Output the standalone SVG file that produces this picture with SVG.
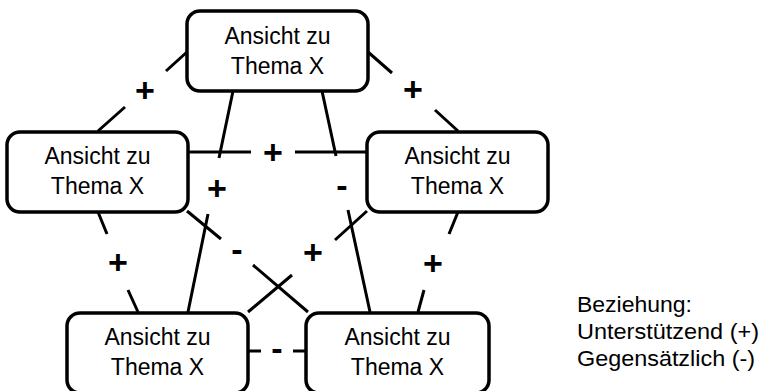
<svg xmlns="http://www.w3.org/2000/svg" width="762" height="391" viewBox="0 0 762 391">
<style>
.box{fill:#fff;stroke:#000;stroke-width:3.5}
.t{font-family:"Liberation Sans",Arial,sans-serif;font-size:23px;fill:#000;text-anchor:middle}
.c{stroke:#000;stroke-width:3;fill:none;stroke-linecap:butt}
.lp{font-family:"Liberation Sans",Arial,sans-serif;font-size:34px;font-weight:bold;fill:#000;text-anchor:middle}
.lg{font-family:"Liberation Sans",Arial,sans-serif;font-size:22px;fill:#000}
</style>
<rect width="762" height="391" fill="#fff"/>
<g id="connectors">
  <path class="c" d="M187,52 L166,71 M125,107 L98,131"/>
  <text class="lp" x="145" y="102">+</text>
  <path class="c" d="M368,52 L392,73 M435,110 L458,131"/>
  <text class="lp" x="413" y="101">+</text>
  <path class="c" d="M188,152 L251,152 M295,152 L367,152"/>
  <text class="lp" x="273" y="164">+</text>
  <path class="c" d="M233,91 L219,158 M208,214 L188,312"/>
  <text class="lp" x="217" y="200">+</text>
  <path class="c" d="M322,91 L336,156 M348,210 L370,312"/>
  <text class="lp" x="342" y="197">-</text>
  <path class="c" d="M187,211 L221,239 M253,265 L308,312"/>
  <text class="lp" x="237" y="261">-</text>
  <path class="c" d="M367,211 L335,240 M292,275 L248,312"/>
  <text class="lp" x="313" y="264">+</text>
  <path class="c" d="M98,212 L107,234 M128,290 L138,312"/>
  <text class="lp" x="118" y="274">+</text>
  <path class="c" d="M458,212 L449,234 M424,290 L418,312"/>
  <text class="lp" x="433" y="275">+</text>
  <path class="c" d="M248,351 L261,351 M293,351 L306,351"/>
  <text class="lp" x="277" y="360">-</text>
</g>
<g id="node-top">
  <rect class="box" x="187" y="11" width="181" height="80" rx="13"/>
  <text class="t" x="277.5" y="44">Ansicht zu</text>
  <text class="t" x="277.5" y="74">Thema X</text>
</g>
<g id="node-left">
  <rect class="box" x="7" y="132" width="181" height="80" rx="13"/>
  <text class="t" x="97.5" y="164">Ansicht zu</text>
  <text class="t" x="97.5" y="194">Thema X</text>
</g>
<g id="node-right">
  <rect class="box" x="367" y="132" width="181" height="80" rx="13"/>
  <text class="t" x="457.5" y="164">Ansicht zu</text>
  <text class="t" x="457.5" y="194">Thema X</text>
</g>
<g id="node-bottom-left">
  <rect class="box" x="67" y="313" width="181" height="80" rx="13"/>
  <text class="t" x="157.5" y="345">Ansicht zu</text>
  <text class="t" x="157.5" y="375">Thema X</text>
</g>
<g id="node-bottom-right">
  <rect class="box" x="306" y="313" width="183" height="80" rx="13"/>
  <text class="t" x="397.5" y="345">Ansicht zu</text>
  <text class="t" x="397.5" y="375">Thema X</text>
</g>
<g id="legend">
  <text class="lg" x="577" y="312" textLength="115" lengthAdjust="spacingAndGlyphs">Beziehung:</text>
  <text class="lg" x="577" y="339" textLength="182" lengthAdjust="spacingAndGlyphs">Unterstützend (+)</text>
  <text class="lg" x="577" y="366" textLength="178" lengthAdjust="spacingAndGlyphs">Gegensätzlich (-)</text>
</g>
</svg>
